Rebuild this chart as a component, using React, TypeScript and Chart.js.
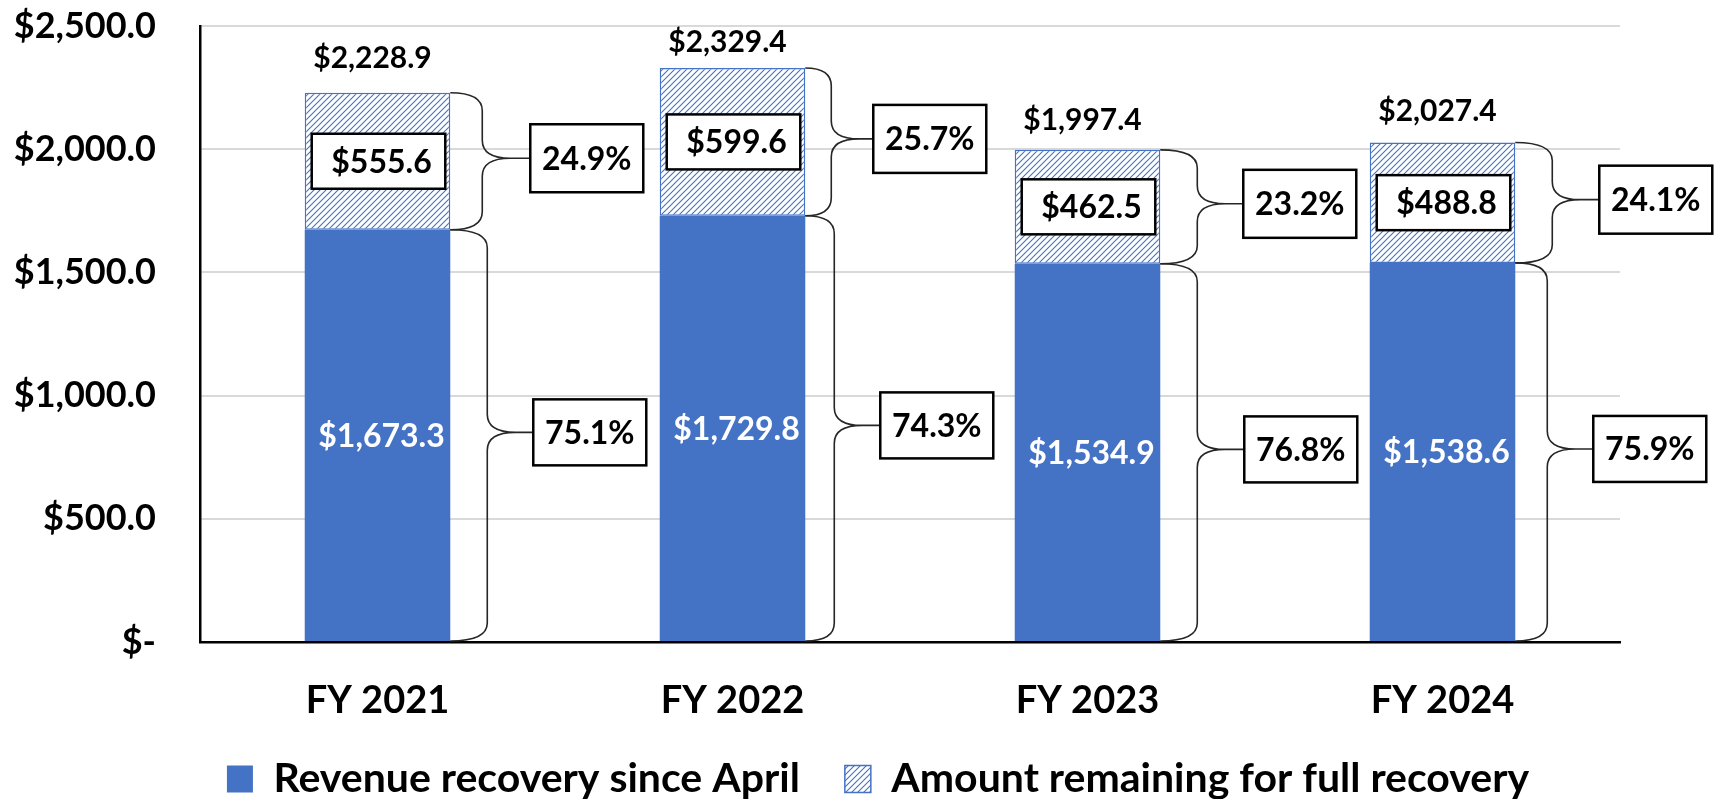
import React, { useEffect, useRef } from 'react';
import { Chart, registerables } from 'chart.js';

Chart.register(...registerables);

// ---------- data ----------
const categories = ['FY 2021', 'FY 2022', 'FY 2023', 'FY 2024'];
const revenueRecovery = [1673.3, 1729.8, 1534.9, 1538.6];
const amountRemaining = [555.6, 599.6, 462.5, 488.8];
const totals = [2228.9, 2329.4, 1997.4, 2027.4];
const pctRemaining = ['24.9%', '25.7%', '23.2%', '24.1%'];
const pctRecovery = ['75.1%', '74.3%', '76.8%', '75.9%'];
const yTickValues = [0, 500, 1000, 1500, 2000, 2500];
const legendLabels = ['Revenue recovery since April', 'Amount remaining for full recovery'];

// ---------- layout constants (annotation placement, px) ----------
const upperBoxGap = [80, 68, 83, 84];
const lowerBoxGap = [83, 75, 84, 78];
const upperBraceGap = [32, 26, 37, 37];
const lowerBraceGap = [37, 29, 37, 32];
const totalLabelGap = [25, 16, 20, 21];

const BLUE = '#4472C4';
const FONT = 'Lato';

function money(v: number): string {
  return '$' + v.toLocaleString('en-US', { minimumFractionDigits: 1, maximumFractionDigits: 1 });
}

function makeHatch(): CanvasPattern | string {
  const c = document.createElement('canvas');
  const s = 6;
  c.width = s;
  c.height = s;
  const g = c.getContext('2d');
  if (!g) return BLUE;
  g.fillStyle = '#ffffff';
  g.fillRect(0, 0, s, s);
  g.strokeStyle = BLUE;
  g.lineWidth = 1.1;
  g.beginPath();
  g.moveTo(0, s);
  g.lineTo(s, 0);
  g.moveTo(-s / 2, s / 2);
  g.lineTo(s / 2, -s / 2);
  g.moveTo(s / 2, s * 1.5);
  g.lineTo(s * 1.5, s / 2);
  g.stroke();
  const p = g.createPattern(c, 'repeat');
  return p || BLUE;
}

function drawText(ctx: CanvasRenderingContext2D, s: string, x: number, yCenter: number, size: number, color: string) {
  ctx.font = `bold ${size}px ${FONT}`;
  ctx.fillStyle = color;
  ctx.textAlign = 'center';
  ctx.textBaseline = 'alphabetic';
  ctx.fillText(s, x, yCenter + size * 0.358);
}

function drawBox(ctx: CanvasRenderingContext2D, x: number, y: number, w: number, h: number) {
  ctx.fillStyle = '#ffffff';
  ctx.fillRect(x, y, w, h);
  ctx.strokeStyle = '#000000';
  ctx.lineWidth = 2.5;
  ctx.strokeRect(x, y, w, h);
}

function drawBrace(ctx: CanvasRenderingContext2D, x0: number, yA: number, yB: number, xv: number, yTip: number, xEnd: number) {
  const r = Math.min(18, (yB - yA) / 5);
  const tw = 28;
  ctx.beginPath();
  ctx.moveTo(x0, yA);
  ctx.quadraticCurveTo(xv, yA, xv, yA + r);
  ctx.lineTo(xv, yTip - r);
  ctx.quadraticCurveTo(xv, yTip, xv + tw, yTip);
  ctx.lineTo(xEnd, yTip);
  ctx.moveTo(xv + tw, yTip);
  ctx.quadraticCurveTo(xv, yTip, xv, yTip + r);
  ctx.lineTo(xv, yB - r);
  ctx.quadraticCurveTo(xv, yB, x0, yB);
  ctx.strokeStyle = '#262626';
  ctx.lineWidth = 1.6;
  ctx.stroke();
}

const annotationPlugin = {
  id: 'braceAnnotations',
  afterLayout(chart: any) {
    const lg = chart.legend;
    if (lg) {
      lg.left += 68;
      lg.right += 68;
      lg.top -= 8.5;
      lg.bottom -= 8.5;
    }
  },
  afterDatasetsDraw(chart: any) {
    const ctx: CanvasRenderingContext2D = chart.ctx;
    const rev = chart.getDatasetMeta(0).data;
    const rem = chart.getDatasetMeta(1).data;
    ctx.save();
    rev.forEach((b0: any, i: number) => {
      const b1 = rem[i];
      const x: number = b0.x;
      const w: number = b0.width;
      const left = x - w / 2;
      const right = x + w / 2;
      const yTop: number = b1.y;
      const ySplit: number = b0.y;
      const yBase: number = b0.base;

      // total above bar
      ctx.font = `bold 30px ${FONT}`;
      ctx.fillStyle = '#000';
      ctx.textAlign = 'center';
      ctx.textBaseline = 'alphabetic';
      ctx.fillText(money(totals[i]), x - 5, yTop - totalLabelGap[i]);

      // remaining value box inside hatched segment
      const midUp = (yTop + ySplit) / 2;
      const vbH = 55;
      drawBox(ctx, left + 7, midUp - vbH / 2, w - 12, vbH);
      drawText(ctx, money(amountRemaining[i]), x + 4, midUp, 32, '#000');

      // revenue value (white) in solid segment
      const midLow = (ySplit + yBase) / 2;
      drawText(ctx, money(revenueRecovery[i]), x + 4, midLow, 32, '#ffffff');

      // upper brace + pct box
      const tipUp = midUp - 3;
      const boxUpX = right + upperBoxGap[i];
      drawBrace(ctx, right, yTop, ySplit, right + upperBraceGap[i], tipUp, boxUpX);
      drawBox(ctx, boxUpX, tipUp - 34, 113, 68);
      drawText(ctx, pctRemaining[i], boxUpX + 56.5, tipUp, 32, '#000');

      // lower brace + pct box
      const tipLow = midLow - 3;
      const boxLowX = right + lowerBoxGap[i];
      drawBrace(ctx, right, ySplit, yBase, right + lowerBraceGap[i], tipLow, boxLowX);
      drawBox(ctx, boxLowX, tipLow - 33, 113, 66);
      drawText(ctx, pctRecovery[i], boxLowX + 56.5, tipLow, 32, '#000');
    });
    ctx.restore();
  },
};

export default function App() {
  const ref = useRef<HTMLCanvasElement | null>(null);

  useEffect(() => {
    if (!ref.current) return;
    const hatch = makeHatch();
    const chart = new Chart(ref.current, {
      type: 'bar',
      data: {
        labels: categories,
        datasets: [
          {
            label: legendLabels[0],
            data: revenueRecovery,
            backgroundColor: BLUE,
            borderWidth: 0,
            barPercentage: 0.41,
            categoryPercentage: 1,
            stack: 's',
          },
          {
            label: legendLabels[1],
            data: amountRemaining,
            backgroundColor: hatch as any,
            borderColor: BLUE,
            borderWidth: 1.5,
            borderSkipped: false,
            barPercentage: 0.41,
            categoryPercentage: 1,
            stack: 's',
          },
        ],
      },
      options: {
        animation: false,
        responsive: true,
        maintainAspectRatio: false,
        layout: { padding: { top: 26, right: 100, bottom: -19, left: 0 } },
        plugins: {
          tooltip: { enabled: false },
          legend: {
            display: true,
            position: 'bottom',
            labels: {
              color: '#000',
              font: { family: FONT, size: 41, weight: 'bold' },
              boxWidth: 26,
              boxHeight: 27,
              padding: 45,
            },
          },
        },
        scales: {
          x: {
            stacked: true,
            grid: { display: false, drawTicks: false },
            border: { display: true, color: '#000', width: 2.5 },
            ticks: {
              color: '#000',
              font: { family: FONT, size: 38, weight: 'bold' },
              padding: 36,
              maxRotation: 0,
            },
            afterFit: (s: any) => {
              s.height = 80;
            },
          },
          y: {
            stacked: true,
            min: 0,
            max: 2500,
            afterBuildTicks: (s: any) => {
              s.ticks = yTickValues.map((v) => ({ value: v }));
            },
            grid: { color: '#D9D9D9', lineWidth: 2, drawTicks: false },
            border: { display: true, color: '#000', width: 2.5 },
            ticks: {
              color: '#000',
              font: { family: FONT, size: 36, weight: 'bold' },
              padding: 44,
              callback: (v: any) => (Number(v) === 0 ? '$-' : money(Number(v))),
            },
            afterFit: (s: any) => {
              s.width = 200;
              s.paddingTop = 0;
              s.paddingBottom = 0;
            },
          },
        },
      },
      plugins: [annotationPlugin],
    } as any);
    return () => chart.destroy();
  }, []);

  return (
    <div style={{ position: 'fixed', left: 0, top: 0, width: 1720, height: 799, background: '#fff' }}>
      <canvas ref={ref} />
    </div>
  );
}
